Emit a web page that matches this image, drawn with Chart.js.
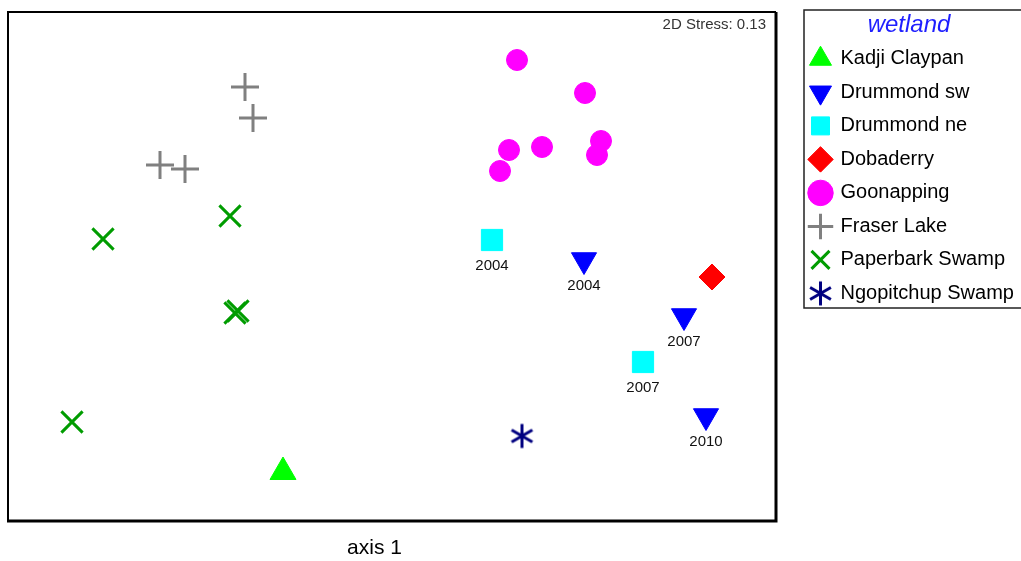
<!DOCTYPE html>
<html>
<head>
<meta charset="utf-8">
<script src="https://cdn.jsdelivr.net/npm/chart.js@4.4.1/dist/chart.umd.min.js"></script>
<style>
  body { margin: 0; background: #fff; }
  #wrap { width: 1021px; height: 561px; }
</style>
</head>
<body>
<div id="wrap"><canvas id="nmds"></canvas></div>
<script>
// ordination scores (axis 1 across, axis 2 up)
var kadji = [{x: 275, y: 49}];
var drummondSw = [{x: 576, y: 261}, {x: 676, y: 205}, {x: 698, y: 105}];
var drummondSwYears = ['2004', '2007', '2010'];
var drummondNe = [{x: 484, y: 281}, {x: 635, y: 159}];
var drummondNeYears = ['2004', '2007'];
var dobaderry = [{x: 704, y: 244}];
var goonapping = [
  {x: 509, y: 461}, {x: 577, y: 428}, {x: 593, y: 380}, {x: 589, y: 366},
  {x: 501, y: 371}, {x: 534, y: 374}, {x: 492, y: 350}
];
var fraser = [{x: 237, y: 434}, {x: 245, y: 403}, {x: 152, y: 356}, {x: 177, y: 352}];
var paperbark = [{x: 222, y: 305}, {x: 95, y: 282}, {x: 227, y: 208}, {x: 230, y: 210}, {x: 64, y: 99}];
var ngopitchup = [{x: 514, y: 85}];
var stressText = '2D Stress: 0.13';

// six-armed asterisk, Chart.js only has an eight-armed star
function asterisk(size, color) {
  var c = document.createElement('canvas');
  c.width = size; c.height = size;
  var g = c.getContext('2d');
  var r = size / 2 - 1.5;
  g.strokeStyle = color;
  g.lineWidth = 3;
  g.translate(size / 2, size / 2);
  for (var a = 0; a < 3; a++) {
    var ang = Math.PI / 2 + a * Math.PI / 3;
    g.beginPath();
    g.moveTo(Math.cos(ang) * r, Math.sin(ang) * r);
    g.lineTo(-Math.cos(ang) * r, -Math.sin(ang) * r);
    g.stroke();
  }
  return c;
}

var framePlugin = {
  id: 'frame',
  afterDraw: function(chart) {
    var a = chart.chartArea, ctx = chart.ctx;
    ctx.save();
    ctx.strokeStyle = '#000';
    ctx.lineWidth = 2;
    ctx.beginPath();
    ctx.moveTo(a.left, a.bottom); ctx.lineTo(a.left, a.top); ctx.lineTo(a.right, a.top);
    ctx.stroke();
    ctx.lineWidth = 3;
    ctx.beginPath();
    ctx.moveTo(a.right, a.top); ctx.lineTo(a.right, a.bottom); ctx.lineTo(a.left - 1, a.bottom);
    ctx.stroke();

    ctx.font = '15px "Liberation Sans", Arial, sans-serif';
    ctx.fillStyle = '#333';
    ctx.textAlign = 'right';
    ctx.textBaseline = 'middle';
    ctx.fillText(stressText, a.right - 10, a.top + 13);

    // year labels under the Drummond points
    ctx.fillStyle = '#111';
    ctx.textAlign = 'center';
    chart.data.datasets.forEach(function(ds, i) {
      if (!ds.years) return;
      chart.getDatasetMeta(i).data.forEach(function(pt, j) {
        ctx.fillText(ds.years[j], pt.x, pt.y + 26);
      });
    });

    var lg = chart.legend;
    ctx.strokeStyle = '#222';
    ctx.lineWidth = 1.5;
    ctx.strokeRect(lg.left + 7, lg.top - 2, lg.width, 298);
    ctx.restore();
  }
};

var ctx = document.getElementById('nmds').getContext('2d');
var chart = new Chart(ctx, {
  type: 'scatter',
  data: {
    datasets: [
      { label: 'Kadji Claypan', data: kadji, pointStyle: 'triangle', pointRadius: 15,
        backgroundColor: '#00ff00', borderColor: '#00ff00', borderWidth: 1 },
      { label: 'Drummond sw', data: drummondSw, years: drummondSwYears, pointStyle: 'triangle',
        pointRotation: 180, pointRadius: 14.5, backgroundColor: '#0000ff', borderColor: '#0000ff', borderWidth: 1 },
      { label: 'Drummond ne', data: drummondNe, years: drummondNeYears, pointStyle: 'rect', pointRadius: 15,
        backgroundColor: '#00ffff', borderColor: '#00ffff', borderWidth: 1 },
      { label: 'Dobaderry', data: dobaderry, pointStyle: 'rectRot', pointRadius: 13,
        backgroundColor: '#ff0000', borderColor: '#ff0000', borderWidth: 1 },
      { label: 'Goonapping', data: goonapping, pointStyle: 'circle', pointRadius: 10.5,
        backgroundColor: '#ff00ff', borderColor: '#ff00ff', borderWidth: 1 },
      { label: 'Fraser Lake', data: fraser, pointStyle: 'cross', pointRadius: 14,
        backgroundColor: '#808080', borderColor: '#808080', borderWidth: 3 },
      { label: 'Paperbark Swamp', data: paperbark, pointStyle: 'crossRot', pointRadius: 15,
        backgroundColor: '#009c00', borderColor: '#009c00', borderWidth: 3 },
      { label: 'Ngopitchup Swamp', data: ngopitchup, pointStyle: asterisk(27, '#000080'),
        backgroundColor: '#000080', borderColor: '#000080', borderWidth: 3 }
    ]
  },
  options: {
    responsive: true,
    maintainAspectRatio: false,
    animation: false,
    layout: { autoPadding: false, padding: { left: 8, top: 12, right: 0, bottom: 0 } },
    scales: {
      x: {
        min: 0, max: 768,
        grid: { display: false, drawTicks: false },
        border: { display: false },
        ticks: { display: false },
        title: {
          // trailing spaces pull the centred title left, as in the original
          display: true, text: 'axis 1      ', color: '#000',
          font: { family: '"Liberation Sans", Arial, sans-serif', size: 21 },
          padding: { top: 14.8, bottom: 0 }
        }
      },
      y: { min: 0, max: 509, display: false },
      yPad: {
        position: 'right',
        grid: { display: false, drawTicks: false },
        border: { display: false },
        ticks: { display: false },
        afterFit: function(s) { s.width = 21; }
      }
    },
    plugins: {
      tooltip: { enabled: false },
      legend: {
        position: 'right',
        align: 'start',
        fullSize: false,
        maxWidth: 224,
        title: {
          display: true, text: 'wetland', color: '#1f1fff',
          font: { family: '"Liberation Sans", Arial, sans-serif', size: 24, style: 'italic', lineHeight: 0.85 },
          padding: { top: 1, bottom: 2 }
        },
        labels: {
          usePointStyle: true,
          boxHeight: 18,
          padding: 13.5,
          color: '#000',
          font: { family: '"Liberation Sans", Arial, sans-serif', size: 20 }
        }
      }
    }
  },
  plugins: [framePlugin]
});
</script>
</body>
</html>
